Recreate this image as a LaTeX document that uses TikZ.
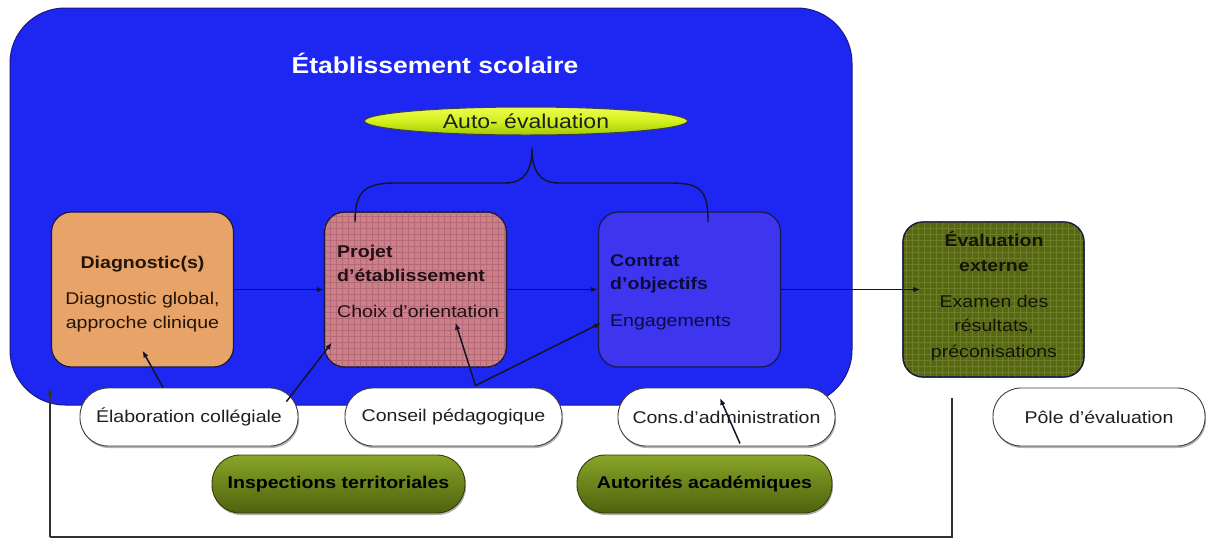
\documentclass[tikz,border=0pt]{standalone}
\usepackage{fontspec}
\setmainfont{Liberation Sans}[FakeStretch=1.15]
\usetikzlibrary{arrows.meta,shapes.geometric,shadows,calc}
\definecolor{bgblue}{RGB}{30,38,242}
\definecolor{bgborder}{RGB}{25,25,130}
\definecolor{diagfill}{RGB}{232,164,104}
\definecolor{projfill}{RGB}{202,130,134}
\definecolor{projgrid}{RGB}{182,104,120}
\definecolor{contfill}{RGB}{62,54,238}
\definecolor{evalfill}{RGB}{88,104,18}
\definecolor{evalgrid}{RGB}{110,126,42}
\definecolor{boxborder}{RGB}{25,25,70}
\definecolor{autotop}{RGB}{236,252,80}
\definecolor{automid}{RGB}{212,240,30}
\definecolor{autobot}{RGB}{160,200,10}
\definecolor{greentop}{RGB}{135,165,40}
\definecolor{greenbot}{RGB}{78,98,14}
\definecolor{greenborder}{RGB}{50,60,10}
\definecolor{pillborder}{RGB}{60,60,60}
\definecolor{linecol}{RGB}{20,20,40}
\definecolor{fbcol}{RGB}{50,50,50}
\definecolor{diagtext}{RGB}{35,20,5}
\definecolor{projtext}{RGB}{35,15,22}
\definecolor{conttext}{RGB}{12,12,60}
\definecolor{evaltext}{RGB}{18,22,0}
\newcommand{\fsn}{\fontsize{17}{24}\selectfont}
\begin{document}
\begin{tikzpicture}[x=1pt,y=-1pt,
  bgbox/.style={draw=bgborder, line width=1pt, fill=bgblue, rounded corners=55pt, minimum width=842pt, minimum height=397pt, inner sep=0pt},
  box/.style={draw=boxborder, line width=1.2pt, rounded corners=20pt, minimum width=182pt, minimum height=155pt, inner sep=0pt},
  boxtext/.style={font=\fsn, inner sep=0pt},
  pill/.style={draw=pillborder, line width=0.9pt, fill=white, rounded corners=28pt, minimum height=58pt, inner sep=0pt, font=\fsn, text=black!88,
     drop shadow={shadow xshift=1pt, shadow yshift=-2pt, opacity=0.3, fill=black}},
  gpill/.style={draw=greenborder, line width=0.9pt, top color=greentop, bottom color=greenbot, rounded corners=28pt, minimum height=58pt, inner sep=0pt, font=\fsn\bfseries, text=black,
     drop shadow={shadow xshift=1pt, shadow yshift=-2pt, opacity=0.3, fill=black}},
  arr/.style={draw=linecol, line width=1.5pt, -{Latex[length=7pt,width=5.5pt]}},
  fb/.style={draw=fbcol, line width=1.4pt}
]
\useasboundingbox (0,0) rectangle (1207,539);

% background establishment
\node[bgbox] (bg) at (431,206.5) {};
\node[font=\fontsize{23}{28}\selectfont\bfseries, text=white] (title) at (435,63) {Établissement scolaire};

% auto-evaluation
\node[ellipse, draw=black!75, line width=1pt, top color=autotop, bottom color=autobot, middle color=automid,
      minimum width=323pt, minimum height=28pt, inner sep=0pt, font=\fontsize{20}{24}\selectfont, text=black!88] (auto) at (526,121) {Auto- évaluation};

% main boxes
\node[box, fill=diagfill] (diag) at (142.5,289.5) {};
\node[box, fill=projfill] (proj) at (415.5,289.5) {};
\begin{scope}
  \clip[rounded corners=20pt] (proj.south west) rectangle (proj.north east);
  \draw[projgrid, line width=0.35pt, step=6pt] (proj.south west) grid (proj.north east);
\end{scope}
\node[box] at (proj) {};
\node[box, fill=contfill] (cont) at (689.5,289.5) {};
\node[box, fill=evalfill, minimum width=181pt] (eval) at (993.5,299.5) {};
\begin{scope}
  \clip[rounded corners=20pt] (eval.south west) rectangle (eval.north east);
  \draw[evalgrid, line width=0.35pt, step=6pt] (eval.south west) grid (eval.north east);
\end{scope}
\node[box, minimum width=181pt] at (eval) {};

% box texts
\node[boxtext, anchor=north, align=center, text=diagtext] (diagT) at (142.5,255.5)
  {\textbf{Diagnostic(s)}\\[12pt]Diagnostic global,\\approche clinique};
\node[boxtext, anchor=north west, align=left, text=projtext] (projT) at (337,244.5)
  {\textbf{Projet}\\\textbf{d’établissement}\\[12pt]Choix d’orientation};
\node[boxtext, anchor=north west, align=left, text=conttext] (contT) at (610,254.5)
  {\textbf{Contrat}\\[-1pt]\textbf{d’objectifs}\\[13pt]Engagements};
\node[boxtext, anchor=north, align=center, text=evaltext] (evalT) at (994,231.5)
  {\textbf{Évaluation}\\[1pt]\textbf{externe}\\[12pt]Examen des\\résultats,\\[2pt]préconisations};

% brace
\coordinate (brL) at (355,222);
\coordinate (brT) at (532,148);
\coordinate (brR) at (708,222);
\draw[draw=linecol, line width=1.4pt] (brL) .. controls (355,192) and (364,183) .. (395,183) -- (505,183)
  .. controls (525,183) and (532,170) .. (brT)
  .. controls (532,170) and (539,183) .. (559,183) -- (672,183)
  .. controls (702,183) and (708,192) .. (brR);

% white pills
\node[pill, minimum width=218pt] (elab) at (189,417) {Élaboration collégiale};
\node[pill, minimum width=217pt] (cped) at (453.5,417) {Conseil pédagogique};
\node[pill, minimum width=217pt] (cadm) at (726.5,417) {Cons.d’administration};
\node[pill, minimum width=212pt] (pole) at (1099,417) {Pôle d’évaluation};

% green pills
\node[gpill, minimum width=253pt] (insp) at (338.5,484) {Inspections territoriales};
\node[gpill, minimum width=255pt] (auto2) at (704.5,484) {Autorités académiques};

% main flow
\draw[arr] (diag.east) -- (proj.west);
\draw[arr] (proj.east) -- (cont.west);
\draw[arr] (cont.east) -- ($(eval.west|-cont.east)+(18,0)$);

% contributions
\draw[arr] ($(elab.north)+(-26,0)$) -- ($(diag.south)+(0,-17)$);
\draw[arr] ($(elab.north east)+(-12,14)$) -- ($(proj.south west)+(8,-25)$);
\draw[arr] ($(cped.north)+(22,-2)$) -- ($(proj.south)+(40,-45)$);
\draw[arr] ($(cped.north)+(22,-2)$) -- ($(cont.west)+(3,33.5)$);
\draw[arr] ($(auto2.north)+(35.5,-11)$) -- ($(cadm.center)+(-6.5,-19)$);

% feedback loop
\coordinate (fbA) at (952,398);
\coordinate (fbB) at (952,537);
\coordinate (fbC) at (50,537);
\coordinate (fbD) at (50,388);
\draw[fb] (fbA) -- (fbB) -- (fbC);
\draw[fb, -{Latex[length=7pt,width=5.5pt]}] (fbC) -- (fbD);
\end{tikzpicture}
\end{document}
